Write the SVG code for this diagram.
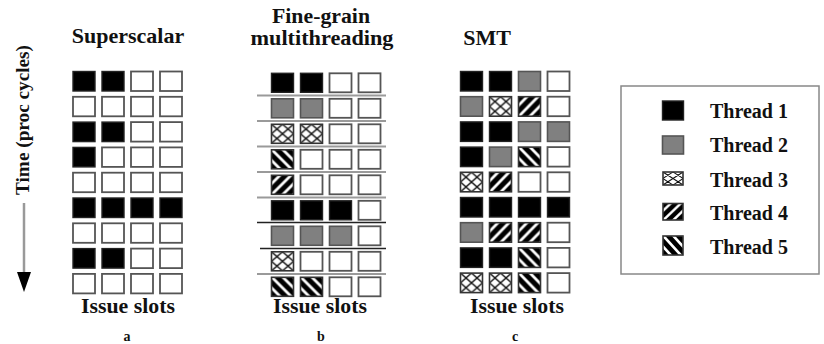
<svg xmlns="http://www.w3.org/2000/svg" width="824" height="344" viewBox="0 0 824 344">
<style>
text{font-family:"Liberation Serif","Times New Roman",serif;font-weight:bold;fill:#111}
.t{font-size:22px;text-anchor:middle}
.t2{font-size:20px;text-anchor:middle}
.is{font-size:20px;text-anchor:middle}
.lb{font-size:14px;text-anchor:middle}
.lg{font-size:20px}
rect.e{fill:#fff;stroke:#555;stroke-width:1.8}
rect.k{fill:#000;stroke:#222;stroke-width:1.4}
rect.g{fill:#808080;stroke:#555;stroke-width:1.6}
rect.x{fill:url(#p3);stroke:#333;stroke-width:1.6}
rect.f{fill:url(#p4);stroke:#333;stroke-width:1.6}
rect.b{fill:url(#p5);stroke:#333;stroke-width:1.6}
.sep{stroke:#9a9a9a;stroke-width:2}
.sepd{stroke:#222;stroke-width:1.6}
</style>
<defs>
<pattern id="p3" patternUnits="objectBoundingBox" width="1" height="1" viewBox="0 0 22 19" preserveAspectRatio="none">
<rect width="22" height="19" fill="#fff"/>
<g stroke="#111" stroke-width="1.4" fill="none">
<path d="M0 0L22 19M22 0L0 19M0 9.5L11 19M11 0L22 9.5M11 0L0 9.5M22 9.5L11 19"/>
</g>
</pattern>
<pattern id="p4" patternUnits="objectBoundingBox" width="1" height="1" viewBox="0 0 22 19" preserveAspectRatio="none">
<rect width="22" height="19" fill="#fff"/>
<g stroke="#000" stroke-width="5">
<path d="M-3 6L6 -3M-3 17L17 -3M3 22L25 0M14 22L25 11"/>
</g>
</pattern>
<pattern id="p5" patternUnits="objectBoundingBox" width="1" height="1" viewBox="0 0 22 19" preserveAspectRatio="none">
<rect width="22" height="19" fill="#fff"/>
<g stroke="#000" stroke-width="5">
<path d="M-3 13L6 22M-3 2L17 22M3 -3L25 19M14 -3L25 8"/>
</g>
</pattern>
</defs>

<g id="time-axis">
<text class="t" style="font-size:19px" transform="translate(29,120) rotate(-90)" textLength="150" lengthAdjust="spacingAndGlyphs">Time (proc cycles)</text>
<line x1="24" y1="203" x2="24" y2="273" stroke="#999" stroke-width="2.5"/>
<polygon points="17,272 31,272 24,292" fill="#000"/>
</g>

<g id="panel-a">
<text class="t" x="128" y="43">Superscalar</text>
<g>
<rect class="k" x="73" y="71.5" width="22" height="19.5"/><rect class="k" x="102" y="71.5" width="22" height="19.5"/><rect class="e" x="131" y="71.5" width="22" height="19.5"/><rect class="e" x="160" y="71.5" width="22" height="19.5"/>
<rect class="e" x="73" y="96.8" width="22" height="19.5"/><rect class="e" x="102" y="96.8" width="22" height="19.5"/><rect class="e" x="131" y="96.8" width="22" height="19.5"/><rect class="e" x="160" y="96.8" width="22" height="19.5"/>
<rect class="k" x="73" y="122.1" width="22" height="19.5"/><rect class="k" x="102" y="122.1" width="22" height="19.5"/><rect class="e" x="131" y="122.1" width="22" height="19.5"/><rect class="e" x="160" y="122.1" width="22" height="19.5"/>
<rect class="k" x="73" y="147.4" width="22" height="19.5"/><rect class="e" x="102" y="147.4" width="22" height="19.5"/><rect class="e" x="131" y="147.4" width="22" height="19.5"/><rect class="e" x="160" y="147.4" width="22" height="19.5"/>
<rect class="e" x="73" y="172.7" width="22" height="19.5"/><rect class="e" x="102" y="172.7" width="22" height="19.5"/><rect class="e" x="131" y="172.7" width="22" height="19.5"/><rect class="e" x="160" y="172.7" width="22" height="19.5"/>
<rect class="k" x="73" y="198" width="22" height="19.5"/><rect class="k" x="102" y="198" width="22" height="19.5"/><rect class="k" x="131" y="198" width="22" height="19.5"/><rect class="k" x="160" y="198" width="22" height="19.5"/>
<rect class="e" x="73" y="223.3" width="22" height="19.5"/><rect class="e" x="102" y="223.3" width="22" height="19.5"/><rect class="e" x="131" y="223.3" width="22" height="19.5"/><rect class="e" x="160" y="223.3" width="22" height="19.5"/>
<rect class="k" x="73" y="248.6" width="22" height="19.5"/><rect class="k" x="102" y="248.6" width="22" height="19.5"/><rect class="e" x="131" y="248.6" width="22" height="19.5"/><rect class="e" x="160" y="248.6" width="22" height="19.5"/>
<rect class="e" x="73" y="273.9" width="22" height="19.5"/><rect class="e" x="102" y="273.9" width="22" height="19.5"/><rect class="e" x="131" y="273.9" width="22" height="19.5"/><rect class="e" x="160" y="273.9" width="22" height="19.5"/>
</g>
<text class="is" x="128" y="313" textLength="94" lengthAdjust="spacingAndGlyphs">Issue slots</text>
<text class="lb" x="127" y="341">a</text>
</g>

<g id="panel-b">
<text class="t2" x="321" y="23" textLength="98" lengthAdjust="spacingAndGlyphs">Fine-grain</text>
<text class="t2" x="322" y="45" textLength="143" lengthAdjust="spacingAndGlyphs">multithreading</text>
<g>
<line class="sep" x1="257" y1="95.5" x2="386" y2="95.5"/>
<line class="sep" x1="257" y1="121" x2="386" y2="121"/>
<line class="sep" x1="257" y1="146.5" x2="386" y2="146.5"/>
<line class="sep" x1="257" y1="172" x2="386" y2="172"/>
<line class="sep" x1="257" y1="197.5" x2="386" y2="197.5"/>
<line class="sepd" x1="257" y1="222.5" x2="386" y2="222.5"/>
<line class="sepd" x1="260" y1="248.5" x2="386" y2="248.5"/>
<line class="sep" x1="257" y1="274" x2="386" y2="274"/>
</g>
<g>
<rect class="k" x="271.5" y="73.3" width="22" height="19"/><rect class="k" x="300.5" y="73.3" width="22" height="19"/><rect class="e" x="329.5" y="73.3" width="22" height="19"/><rect class="e" x="358.5" y="73.3" width="22" height="19"/>
<rect class="g" x="271.5" y="98.8" width="22" height="19"/><rect class="g" x="300.5" y="98.8" width="22" height="19"/><rect class="e" x="329.5" y="98.8" width="22" height="19"/><rect class="e" x="358.5" y="98.8" width="22" height="19"/>
<rect class="x" x="271.5" y="124.3" width="22" height="19"/><rect class="x" x="300.5" y="124.3" width="22" height="19"/><rect class="e" x="329.5" y="124.3" width="22" height="19"/><rect class="e" x="358.5" y="124.3" width="22" height="19"/>
<rect class="b" x="271.5" y="149.8" width="22" height="19"/><rect class="e" x="300.5" y="149.8" width="22" height="19"/><rect class="e" x="329.5" y="149.8" width="22" height="19"/><rect class="e" x="358.5" y="149.8" width="22" height="19"/>
<rect class="f" x="271.5" y="175.3" width="22" height="19"/><rect class="e" x="300.5" y="175.3" width="22" height="19"/><rect class="e" x="329.5" y="175.3" width="22" height="19"/><rect class="e" x="358.5" y="175.3" width="22" height="19"/>
<rect class="k" x="271.5" y="200.8" width="22" height="19"/><rect class="k" x="300.5" y="200.8" width="22" height="19"/><rect class="k" x="329.5" y="200.8" width="22" height="19"/><rect class="e" x="358.5" y="200.8" width="22" height="19"/>
<rect class="g" x="271.5" y="226.3" width="22" height="19"/><rect class="g" x="300.5" y="226.3" width="22" height="19"/><rect class="g" x="329.5" y="226.3" width="22" height="19"/><rect class="e" x="358.5" y="226.3" width="22" height="19"/>
<rect class="x" x="271.5" y="251.8" width="22" height="19"/><rect class="e" x="300.5" y="251.8" width="22" height="19"/><rect class="e" x="329.5" y="251.8" width="22" height="19"/><rect class="e" x="358.5" y="251.8" width="22" height="19"/>
<rect class="b" x="271.5" y="277.3" width="22" height="19"/><rect class="b" x="300.5" y="277.3" width="22" height="19"/><rect class="e" x="329.5" y="277.3" width="22" height="19"/><rect class="e" x="358.5" y="277.3" width="22" height="19"/>
</g>
<text class="is" x="320" y="313" textLength="94" lengthAdjust="spacingAndGlyphs">Issue slots</text>
<text class="lb" x="321" y="341">b</text>
</g>

<g id="panel-c">
<text class="t" x="487" y="45">SMT</text>
<g>
<rect class="k" x="460.5" y="71.5" width="22" height="19.5"/><rect class="k" x="489.5" y="71.5" width="22" height="19.5"/><rect class="g" x="518.5" y="71.5" width="22" height="19.5"/><rect class="e" x="547.5" y="71.5" width="22" height="19.5"/>
<rect class="g" x="460.5" y="96.7" width="22" height="19.5"/><rect class="x" x="489.5" y="96.7" width="22" height="19.5"/><rect class="f" x="518.5" y="96.7" width="22" height="19.5"/><rect class="e" x="547.5" y="96.7" width="22" height="19.5"/>
<rect class="k" x="460.5" y="121.9" width="22" height="19.5"/><rect class="k" x="489.5" y="121.9" width="22" height="19.5"/><rect class="g" x="518.5" y="121.9" width="22" height="19.5"/><rect class="g" x="547.5" y="121.9" width="22" height="19.5"/>
<rect class="k" x="460.5" y="147.1" width="22" height="19.5"/><rect class="g" x="489.5" y="147.1" width="22" height="19.5"/><rect class="b" x="518.5" y="147.1" width="22" height="19.5"/><rect class="e" x="547.5" y="147.1" width="22" height="19.5"/>
<rect class="x" x="460.5" y="172.3" width="22" height="19.5"/><rect class="f" x="489.5" y="172.3" width="22" height="19.5"/><rect class="e" x="518.5" y="172.3" width="22" height="19.5"/><rect class="e" x="547.5" y="172.3" width="22" height="19.5"/>
<rect class="k" x="460.5" y="197.5" width="22" height="19.5"/><rect class="k" x="489.5" y="197.5" width="22" height="19.5"/><rect class="k" x="518.5" y="197.5" width="22" height="19.5"/><rect class="k" x="547.5" y="197.5" width="22" height="19.5"/>
<rect class="g" x="460.5" y="222.7" width="22" height="19.5"/><rect class="f" x="489.5" y="222.7" width="22" height="19.5"/><rect class="f" x="518.5" y="222.7" width="22" height="19.5"/><rect class="e" x="547.5" y="222.7" width="22" height="19.5"/>
<rect class="k" x="460.5" y="247.9" width="22" height="19.5"/><rect class="k" x="489.5" y="247.9" width="22" height="19.5"/><rect class="b" x="518.5" y="247.9" width="22" height="19.5"/><rect class="e" x="547.5" y="247.9" width="22" height="19.5"/>
<rect class="x" x="460.5" y="273.1" width="22" height="19.5"/><rect class="x" x="489.5" y="273.1" width="22" height="19.5"/><rect class="b" x="518.5" y="273.1" width="22" height="19.5"/><rect class="e" x="547.5" y="273.1" width="22" height="19.5"/>
</g>
<text class="is" x="517" y="313" textLength="94" lengthAdjust="spacingAndGlyphs">Issue slots</text>
<text class="lb" x="515" y="341">c</text>
</g>

<g id="legend">
<rect x="621" y="86" width="198" height="188" fill="#fff" stroke="#888" stroke-width="1.5"/>
<rect class="k" x="662.5" y="101" width="21" height="19"/>
<rect class="g" x="662.5" y="136" width="21" height="18"/>
<rect class="x" x="663" y="172" width="20" height="13"/>
<rect class="f" x="663" y="203.5" width="20" height="16.5"/>
<rect class="b" x="663" y="236" width="20" height="19"/>
<text class="lg" x="710" y="118">Thread 1</text>
<text class="lg" x="710" y="152">Thread 2</text>
<text class="lg" x="710" y="186.5">Thread 3</text>
<text class="lg" x="710" y="220">Thread 4</text>
<text class="lg" x="710" y="254">Thread 5</text>
</g>
</svg>
